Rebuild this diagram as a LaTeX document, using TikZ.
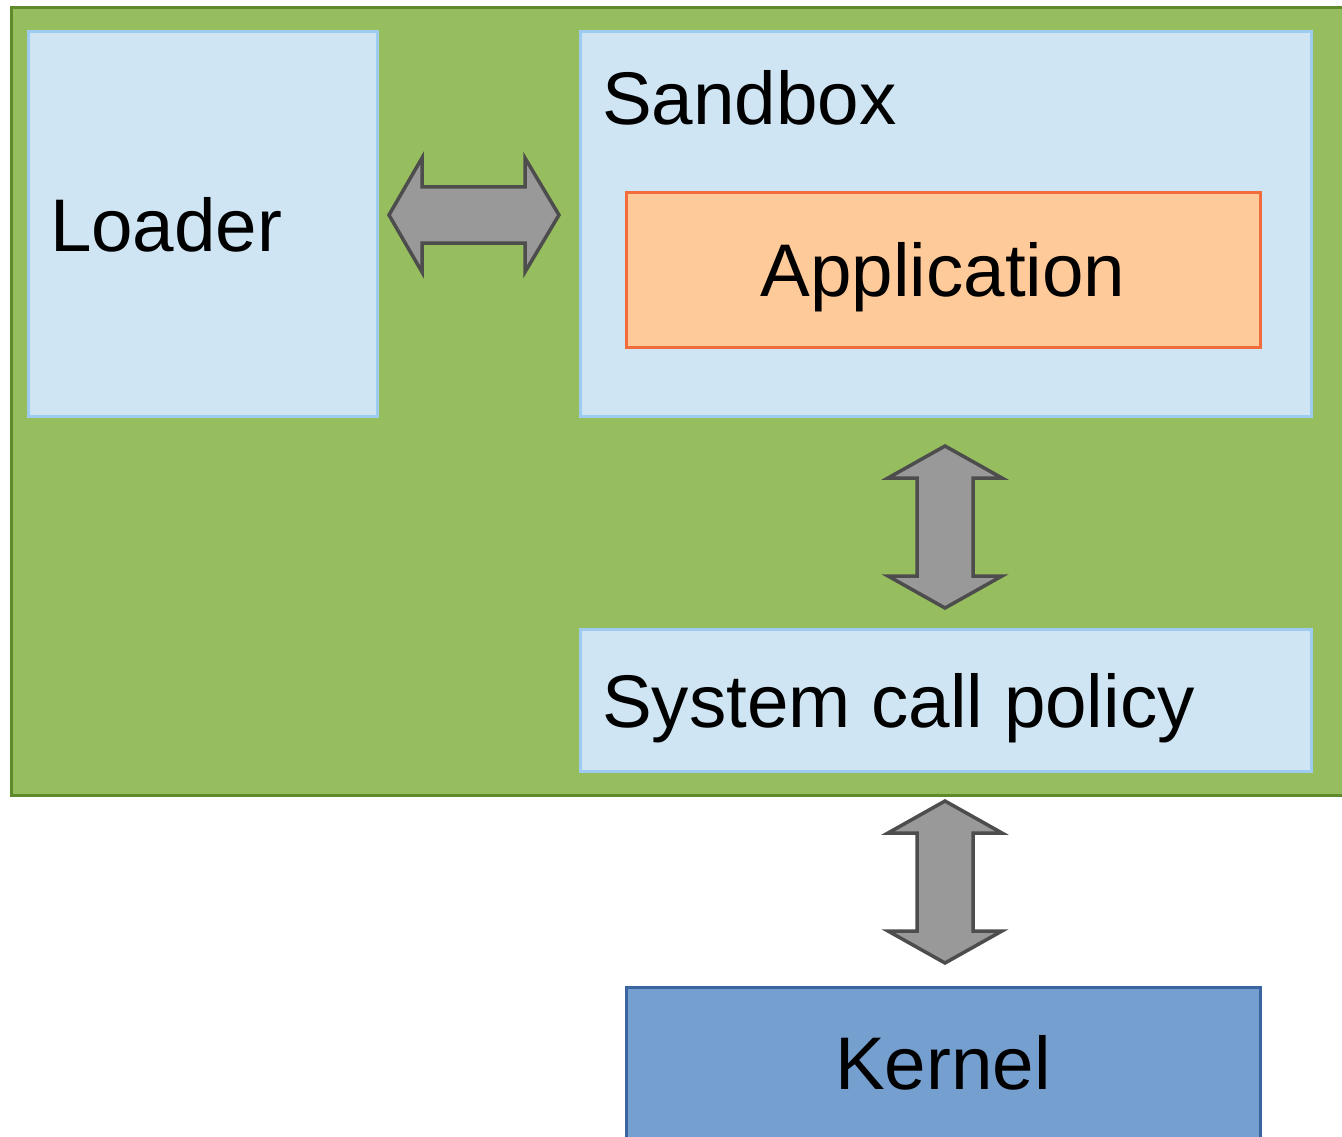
\documentclass[tikz,border=0pt]{standalone}
\usepackage{fontspec}
\setmainfont{Liberation Sans}
\usetikzlibrary{calc}
\definecolor{outerfill}{HTML}{97BE5E}
\definecolor{outerline}{HTML}{5E8A2A}
\definecolor{boxfill}{HTML}{CFE5F3}
\definecolor{boxline}{HTML}{9ECBF0}
\definecolor{appfill}{HTML}{FFCA99}
\definecolor{appline}{HTML}{F26B3A}
\definecolor{kernfill}{HTML}{759FCF}
\definecolor{kernline}{HTML}{3A65A0}
\definecolor{arrfill}{HTML}{999999}
\definecolor{arrline}{HTML}{4D4D4D}
\begin{document}
\begin{tikzpicture}[x=1pt,y=-1pt,
  every node/.style={inner sep=0pt, outer sep=0pt},
  region/.style={draw=boxline, fill=boxfill, line width=3pt},
  txt/.style={font=\fontsize{74.6}{80}\selectfont, text=black},
  fatarrow/.style={draw=arrline, fill=arrfill, line width=3.5pt, line join=miter}]
\useasboundingbox (0,0) rectangle (1342,1137);

% outer container
\draw[draw=outerline, fill=outerfill, line width=3pt] (11,8) rectangle (1350,795);

% boxes
\path[region] (28,32) rectangle (377,416);
\coordinate (loaderE) at (377,215);
\path[region] (580,32) rectangle (1311,416);
\coordinate (sandboxW) at (580,215);
\coordinate (sandboxS) at (945,416);
\draw[draw=appline, fill=appfill, line width=3pt] (626,193) rectangle (1260,347);
\path[region] (580,629) rectangle (1311,771);
\coordinate (policyN) at (945,629);
\coordinate (policyS) at (945,771);
\draw[draw=kernline, fill=kernfill, line width=3pt] (626,987) rectangle (1260,1150);
\coordinate (kernelN) at (945,987);

% labels
\node[txt, anchor=base west] (loader) at (50,251) {Loader};
\node[txt, anchor=base west] (sandbox) at (602,125) {Sandbox};
\node[txt, anchor=base] (app) at (943,296) {Application};
\node[txt, anchor=base west] (policy) at (602,727) {System call policy};
\node[txt, anchor=base] (kernel) at (943,1089) {Kernel};

% double arrows between the parts
\draw[fatarrow] ($(loaderE)+(12,0)$) -- ++(33,-57) -- ++(0,29) -- ++(103,0) -- ++(0,-29)
  -- ($(sandboxW)+(-21,0)$) -- ++(-34,57) -- ++(0,-29) -- ++(-103,0) -- ++(0,29) -- cycle;
\draw[fatarrow] ($(sandboxS)+(0,30)$) -- ++(57,32) -- ++(-29,0) -- ++(0,98) -- ++(29,0)
  -- ($(policyN)+(0,-21)$) -- ++(-57,-32) -- ++(29,0) -- ++(0,-98) -- ++(-29,0) -- cycle;
\draw[fatarrow] ($(policyS)+(0,30)$) -- ++(57,32) -- ++(-29,0) -- ++(0,98) -- ++(29,0)
  -- ($(kernelN)+(0,-24)$) -- ++(-57,-32) -- ++(29,0) -- ++(0,-98) -- ++(-29,0) -- cycle;
\end{tikzpicture}
\end{document}
